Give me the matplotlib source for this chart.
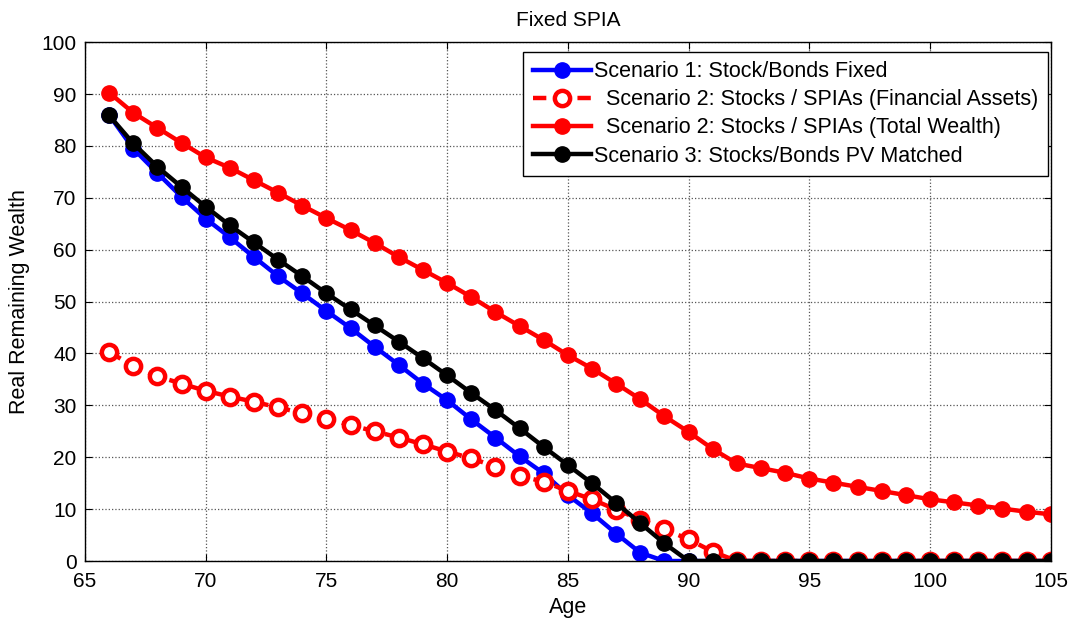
import matplotlib
matplotlib.use("Agg")
import matplotlib.pyplot as plt
import numpy as np

plt.rcParams['font.family'] = ['Liberation Sans', 'DejaVu Sans']

# ages 66..105
age = list(range(66, 106))

# Scenario 1: Stock/Bonds Fixed
s1_fixed = [86.0, 79.5, 74.8, 70.2, 66.0, 62.4, 58.6, 54.9, 51.6, 48.2,
            44.9, 41.3, 37.8, 34.2, 31.0, 27.3, 23.8, 20.2, 16.9, 12.7,
            9.2, 5.3, 1.6, 0, 0, 0, 0, 0, 0, 0,
            0, 0, 0, 0, 0, 0, 0, 0, 0, 0]

# Scenario 2: financial assets only
s2_financial = [40.3, 37.6, 35.6, 34.2, 32.8, 31.7, 30.7, 29.6, 28.5, 27.4,
                26.2, 25.0, 23.8, 22.5, 21.1, 19.8, 18.2, 16.4, 15.3, 13.5,
                11.9, 9.9, 8.0, 6.1, 4.2, 1.8, 0, 0, 0, 0,
                0, 0, 0, 0, 0, 0, 0, 0, 0, 0]

# Scenario 2: total wealth
s2_total = [90.3, 86.4, 83.5, 80.6, 77.8, 75.8, 73.4, 71.0, 68.5, 66.1,
            63.8, 61.3, 58.6, 56.1, 53.6, 50.9, 48.0, 45.3, 42.6, 39.7,
            37.1, 34.2, 31.2, 27.9, 24.9, 21.6, 18.8, 17.9, 17.0, 15.9,
            15.1, 14.3, 13.5, 12.7, 11.9, 11.3, 10.7, 10.1, 9.5, 9.0]

# Scenario 3: Stocks/Bonds PV matched
s3_matched = [85.9, 80.5, 76.0, 72.1, 68.3, 64.7, 61.4, 58.1, 54.9, 51.6,
              48.5, 45.4, 42.3, 39.1, 35.8, 32.4, 29.1, 25.6, 22.0, 18.5,
              15.0, 11.2, 7.3, 3.4, 0, 0, 0, 0, 0, 0,
              0, 0, 0, 0, 0, 0, 0, 0, 0, 0]

labels = ["Scenario 1: Stock/Bonds Fixed",
          "  Scenario 2: Stocks / SPIAs (Financial Assets)",
          "  Scenario 2: Stocks / SPIAs (Total Wealth)",
          "Scenario 3: Stocks/Bonds PV Matched"]

fig = plt.figure(figsize=(10.75, 6.21), dpi=100)
ax = fig.add_axes([0.079, 0.0966, 0.8984, 0.8354])

lw = 3.2
ms = 11
ax.plot(age, s1_fixed, '-o', color='blue', lw=lw, ms=ms, label=labels[0])
ax.plot(age, s2_financial, '--o', color='red', lw=lw, ms=ms, mfc='white',
        mew=3.2, dashes=(3, 2), label=labels[1])
ax.plot(age, s2_total, '-o', color='red', lw=lw, ms=ms, label=labels[2])
ax.plot(age, s3_matched, '-o', color='black', lw=lw, ms=ms, label=labels[3])

ax.set_xlim(65, 105)
ax.set_ylim(0, 100)
ax.set_xticks(np.arange(65, 106, 5))
ax.set_yticks(np.arange(0, 101, 10))
ax.tick_params(direction='in', top=True, right=True, labelsize=15, length=5)
ax.tick_params(axis='y', pad=6)
ax.tick_params(axis='x', pad=8)
ax.grid(True, linestyle=':', color='#555555', linewidth=0.9)
for sp in ax.spines.values():
    sp.set_linewidth(1.0)

ax.set_title("Fixed SPIA", fontsize=15, pad=12)
ax.set_xlabel("Age", fontsize=15.5, labelpad=4)
ax.set_ylabel("Real Remaining Wealth", fontsize=15.5, labelpad=8)

leg = ax.legend(loc='upper right', bbox_to_anchor=(0.997, 0.982),
                fontsize=15.5, handlelength=2.7,
                fancybox=False, edgecolor='black', framealpha=1,
                borderaxespad=0.0, handletextpad=0.15, labelspacing=0.33,
                borderpad=0.45)
leg.get_frame().set_linewidth(1.0)

fig.savefig("out.png", dpi=100)
